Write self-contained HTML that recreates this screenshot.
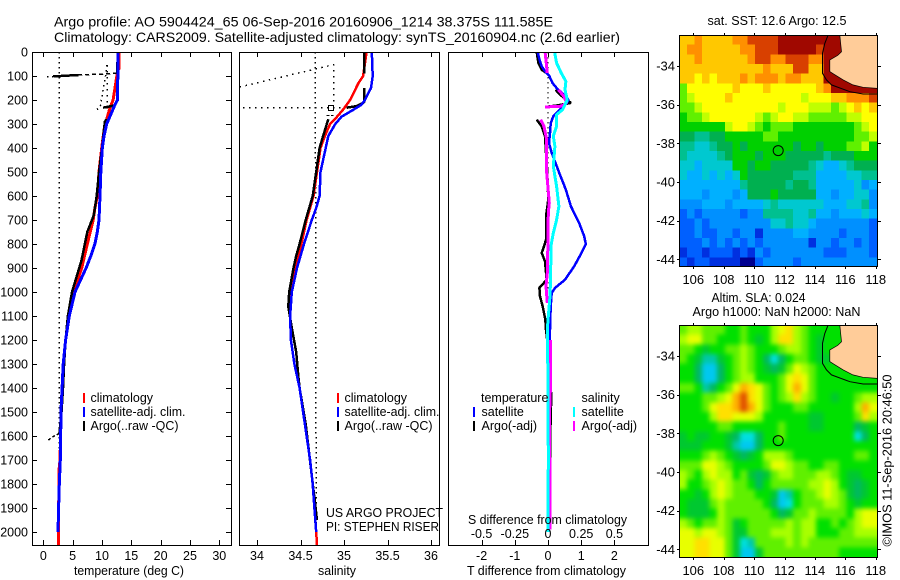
<!DOCTYPE html>
<html lang="en">
<head>
<meta charset="utf-8">
<title>Argo profile 5904424_65</title>
<style>
html,body{margin:0;padding:0;background:#fff;}
svg{display:block;}
text{font-family:"Liberation Sans",Arial,sans-serif;font-size:12.5px;fill:#000;}
.title{font-size:14px;}
.maplab{font-size:13px;}
</style>
</head>
<body>
<svg id="chart" width="900" height="580" viewBox="0 0 900 580" xmlns="http://www.w3.org/2000/svg">
<defs>
<clipPath id="clip-t"><rect x="32" y="52" width="200" height="494"/></clipPath>
<clipPath id="clip-s"><rect x="240" y="52" width="200" height="494"/></clipPath>
<clipPath id="clip-d"><rect x="449" y="52" width="200" height="494"/></clipPath>
<clipPath id="clip-m1"><rect x="680" y="35" width="198" height="231"/></clipPath>
<clipPath id="clip-m2"><rect x="680" y="325" width="198" height="232"/></clipPath>
</defs>
<rect x="0" y="0" width="900" height="580" fill="#fff"/>

<text class="title" x="54" y="26.5" textLength="499" lengthAdjust="spacingAndGlyphs">Argo profile: AO 5904424_65 06-Sep-2016 20160906_1214 38.375S 111.585E</text>
<text class="title" x="54" y="42" textLength="566" lengthAdjust="spacingAndGlyphs">Climatology: CARS2009. Satellite-adjusted climatology: synTS_20160904.nc (2.6d earlier)</text>

<g id="panel-t"></g>
<g id="panel-s"></g>
<g id="panel-d"></g>
<g id="map-1"></g>
<g id="map-2"></g>

<text x="74" y="575" textLength="110" lengthAdjust="spacingAndGlyphs">temperature (deg C)</text>
<text x="318" y="575" textLength="38" lengthAdjust="spacingAndGlyphs">salinity</text>
<text x="467" y="575" textLength="159" lengthAdjust="spacingAndGlyphs">T difference from climatology</text>
<text x="468" y="524" textLength="159" lengthAdjust="spacingAndGlyphs">S difference from climatology</text>

<g>
<rect x="83" y="393" width="2" height="10" fill="#f00"/>
<rect x="83" y="407" width="2" height="10" fill="#00f"/>
<rect x="83" y="421" width="2" height="10" fill="#000"/>
<text x="90.5" y="402">climatology</text>
<text x="90.5" y="416" textLength="95" lengthAdjust="spacingAndGlyphs">satellite-adj. clim.</text>
<text x="90.5" y="430" textLength="88" lengthAdjust="spacingAndGlyphs">Argo(..raw -QC)</text>
</g>
<g>
<rect x="337" y="393" width="2" height="10" fill="#f00"/>
<rect x="337" y="407" width="2" height="10" fill="#00f"/>
<rect x="337" y="421" width="2" height="10" fill="#000"/>
<text x="344.5" y="402">climatology</text>
<text x="344.5" y="416" textLength="95" lengthAdjust="spacingAndGlyphs">satellite-adj. clim.</text>
<text x="344.5" y="430" textLength="88" lengthAdjust="spacingAndGlyphs">Argo(..raw -QC)</text>
</g>
<text x="326" y="517" textLength="117" lengthAdjust="spacingAndGlyphs">US ARGO PROJECT</text>
<text x="326" y="531" textLength="113" lengthAdjust="spacingAndGlyphs">PI: STEPHEN RISER</text>

<g>
<text x="481" y="402">temperature</text>
<rect x="473" y="407" width="2" height="10" fill="#00f"/>
<rect x="473" y="421" width="2" height="10" fill="#000"/>
<text x="481.5" y="416">satellite</text>
<text x="481.5" y="430">Argo(-adj)</text>
<text x="581.5" y="402">salinity</text>
<rect x="573" y="407" width="2" height="10" fill="#0ff"/>
<rect x="573" y="421" width="2" height="10" fill="#f0f"/>
<text x="581.5" y="416">satellite</text>
<text x="581.5" y="430">Argo(-adj)</text>
</g>

<text class="maplab" x="707.5" y="25" textLength="139" lengthAdjust="spacingAndGlyphs">sat. SST: 12.6 Argo: 12.5</text>
<text class="maplab" x="711.5" y="302" textLength="94" lengthAdjust="spacingAndGlyphs">Altim. SLA: 0.024</text>
<text class="maplab" x="692.5" y="316" textLength="168" lengthAdjust="spacingAndGlyphs">Argo h1000: NaN h2000: NaN</text>
<text class="maplab" transform="translate(891.5,546.5) rotate(-90)" textLength="172" lengthAdjust="spacingAndGlyphs">©IMOS 11-Sep-2016 20:46:50</text>
</svg>

<script>
// ---- depth axis ----
const depthTicks = [0,100,200,300,400,500,600,700,800,900,1000,1100,1200,1300,1400,1500,1600,1700,1800,1900,2000];
const tempTicks = [0,5,10,15,20,25,30];
const salTicks = [34,34.5,35,35.5,36];
const salTickLabels = ['34','34.5','35','35.5','36'];
const diffTTicks = [-2,-1,0,1,2];
const diffSTicks = [-0.5,-0.25,0,0.25,0.5];
const diffSTickLabels = ['-0.5','-0.25','0','0.25','0.5'];
const lonTicks = [106,108,110,112,114,116,118];
const latTicks = [-34,-36,-38,-40,-42,-44];

// ---- temperature profiles ----
const climTDepth = [0,70,75,120,200,230,280,300,400,500,600,650,700,800,900,1000,1100,1200,1300,1400,1500,1600,1700,1750,1800,1900,2000,2055];
const climT = [12.9,12.9,12.7,12.4,11.9,11.4,10.8,10.5,9.95,9.5,9.2,8.8,8.5,7.5,6.55,5.2,4.4,3.8,3.4,3.2,3.0,2.95,2.85,2.65,2.7,2.6,2.55,2.55];
const satTDepth = [0,100,200,220,260,300,350,400,500,600,700,750,800,850,900,1000,1100,1200,1300,1400,1500,1600,1700,1800,1900,2000];
const satT = [12.7,12.7,12.65,12.2,11.5,10.8,10.35,10.05,9.8,9.66,9.5,9.2,8.8,8.1,7.3,5.4,4.43,3.8,3.4,3.2,3.0,2.96,2.9,2.73,2.6,2.5];
const argoTDepth = [0,88,null,96,100,102,null,222,232,null,280,290,400,500,600,680,750,870,1000,1100,1200,1300,1400,1500,1590];
const argoT = [12.7,12.6,null,6,3,1.7,null,12.3,10.2,null,10.8,10.5,10,9.5,9.1,8.6,7.5,6.5,4.9,4.2,3.8,3.55,3.35,3.1,2.75];
const argoTDashDepth = [88,92,96];
const argoTDash = [12.6,10,6];
const argoTSpikeDepth = [1589,1605,1622];
const argoTSpike = [2.73,1.5,0.6];
const rawTDepth = [55,100,230,240,null,102,103];
const rawT = [10.8,10.6,9.7,9.1,null,1.7,0.6];
const rawT2Depth = [55,235];
const rawT2 = [10.9,10.9];
const refTDepth = [0,2055];
const refT = [2.73,2.73];

// ---- salinity profiles ----
const climSDepth = [0,100,130,200,240,270,300,350,400,500,600,700,800,900,1000,1100,1200,1300,1400,1500,1600,1700,1800,1900,2000,2055];
const climS = [35.26,35.22,35.165,35.07,34.99,34.92,34.84,34.78,34.73,34.69,34.65,34.57,34.51,34.44,34.39,34.38,34.39,34.43,34.49,34.53,34.57,34.61,34.64,34.66,34.68,34.69];
const satSDepth = [0,100,150,200,220,240,270,300,350,400,500,600,650,700,800,900,1000,1100,1200,1300,1400,1500,1600,1700,1800,1900,2000];
const satS = [35.32,35.33,35.31,35.24,35.20,35.11,34.97,34.90,34.82,34.79,34.73,34.72,34.68,34.63,34.54,34.46,34.40,34.38,34.39,34.43,34.49,34.53,34.57,34.61,34.64,34.66,34.68];
const argoSDepth = [0,90,null,150,210,225,232,null,280,350,400,500,600,700,800,850,900,1000,1060,1150,1250,1350,1400,1550,1950];
const argoS = [35.23,35.23,null,35.23,35.23,35.15,35.03,null,34.82,34.76,34.72,34.68,34.64,34.56,34.49,34.45,34.42,34.37,34.36,34.40,34.45,34.475,34.49,34.56,34.69];
const rawSDepth = [146,53,226,null,233,233];
const rawS = [33.8,34.88,34.88,null,33.84,34.99];
const rawSDashDepth = [265,265];
const rawSDash = [34.8,34.88];
const refSDepth = [0,2055];
const refS = [34.67,34.68];
const qcSquareDepth = [233];
const qcSquareS = [34.85];

// ---- differences from climatology ----
const dTSatDepth = [0,30,60,80,100,130,150,170,190,200,215,240,268,297,337,380,420,504,574,643,713,768,800,837,893,949,983,1004,1060,1157,1400,1700,2000];
const dTSat = [-0.31,-0.26,-0.19,-0.09,0.04,0.14,0.26,0.41,0.58,0.61,0.56,0.36,0.16,0.08,0.06,0.03,0.11,0.34,0.54,0.69,0.94,1.09,1.14,1.01,0.79,0.51,0.21,0.11,0.08,0.06,0.05,0.03,0.02];
const dTArgoDepth = [0,46,74,88,null,157,178,212,222,229,null,282,310,351,420,504,615,685,782,810,837,872,949,983,1018,1060,1115,1157,1300,1450,1500,1700];
const dTArgo = [-0.34,-0.29,-0.19,-0.04,null,0.23,0.36,0.69,0.3,-0.09,null,-0.34,-0.19,-0.09,-0.06,-0.02,0.01,-0.06,-0.06,-0.12,-0.19,-0.09,-0.04,-0.26,-0.24,-0.16,-0.08,-0.06,0.06,0.1,0.08,0.06];
const dSSatDepth = [0,46,88,122,157,199,240,261,310,351,393,476,560,643,699,754,810,921,1018,1101,1157,1290,1300,1700,2000];
const dSSat = [0.05,0.065,0.1,0.135,0.128,0.145,0.11,0.065,0.065,0.04,0.052,0.04,0.065,0.082,0.065,0.04,0.022,0.02,0.015,0.002,-0.005,-0.005,0,0.002,0];
const dSArgoDepth = [0,88,null,157,185,212,226,229,null,282,310,365,504,629,670,782,921,976,1046,null,1200,1400,1500,1990];
const dSArgo = [-0.022,-0.005,null,0.078,0.12,0.14,0.1,-0.022,null,-0.055,-0.03,-0.01,-0.01,0.01,0.002,0,-0.005,-0.015,-0.005,null,0.018,0.018,0.012,0.015];
const dTRefDepth = [0,1000];
const dTRef = [0,0];

// ---- SST map: colour level per half-degree cell ----
const sstGrid = [
[12,12,13,12,12,12,12,13,13,14,14,14,14,15,15,15,15,15,15,15,15,15,15,15,15,15],
[12,13,13,12,12,12,12,12,13,13,14,14,14,15,15,15,15,15,14,15,15,15,15,15,15,15],
[12,12,13,12,12,12,12,12,12,13,14,14,13,13,14,14,14,13,13,15,15,15,15,15,15,15],
[12,12,12,12,12,12,12,12,12,12,12,13,12,12,12,14,14,12,12,15,15,15,15,15,15,15],
[12,12,11,12,11,12,12,12,13,12,13,13,13,12,13,13,12,12,12,15,15,15,15,15,15,15],
[9,11,11,11,11,11,11,12,11,11,11,12,11,11,11,11,11,11,12,13,15,15,15,15,15,15],
[9,10,11,11,11,11,12,11,11,11,11,11,11,11,11,11,10,11,11,11,12,12,13,13,13,14],
[9,9,10,11,11,11,11,11,11,11,11,11,11,10,11,11,11,10,10,10,9,10,11,12,11,12],
[8,9,9,10,11,11,11,11,11,11,10,9,10,11,11,10,10,9,9,9,9,9,10,10,11,11],
[8,8,8,8,8,8,10,11,11,10,9,8,9,9,9,8,8,8,8,8,8,8,8,9,10,11],
[7,7,6,6,7,7,8,8,8,8,8,9,9,8,8,8,8,8,8,8,8,8,8,9,9,10],
[6,6,5,5,6,7,7,8,7,8,8,8,8,8,8,7,8,8,7,8,8,8,9,9,10,8],
[6,5,5,5,5,6,7,8,8,8,7,8,8,8,7,7,7,7,7,6,7,7,7,8,8,8],
[5,5,4,5,5,5,5,8,8,7,8,8,7,7,7,7,7,6,5,4,4,5,6,7,7,7],
[5,4,4,5,4,5,4,5,8,7,7,7,7,7,7,6,6,6,4,4,4,4,5,5,6,6],
[4,4,4,4,4,4,4,4,6,7,7,7,7,7,6,7,7,6,4,4,4,4,4,5,3,4],
[4,4,4,3,4,4,4,3,4,7,7,7,8,7,7,7,7,7,4,4,3,4,4,5,5,3],
[3,3,3,4,4,4,3,4,4,4,4,5,6,5,5,5,5,5,5,4,4,4,5,5,6,3],
[2,3,2,3,3,3,3,3,2,3,3,6,6,6,6,5,5,6,4,4,3,4,4,4,5,4],
[2,2,3,2,3,3,3,3,3,3,3,3,5,5,6,5,5,4,3,3,3,3,3,3,3,2],
[2,2,3,2,2,3,3,2,3,3,1,3,3,3,3,4,4,3,3,3,3,2,3,3,3,2],
[2,2,2,3,2,3,2,3,2,3,2,3,3,3,3,3,3,1,3,3,2,3,3,2,3,2],
[1,2,2,1,2,2,2,1,2,1,3,2,3,3,3,3,3,3,3,2,2,2,3,3,3,2],
[2,1,2,2,1,1,1,1,0,0,2,3,3,3,3,2,3,3,3,3,3,3,3,3,3,3]
];

// ---- SLA map: colour level per half-degree cell ----
const slaGrid = [
[6,7,7,6,6,6,5,5,6,5,5,5,7,8,9,7,6,5,5,5,5,5,5,5,5,5],
[7,8,8,6,6,5,5,5,6,5,4,5,7,9,9,7,6,5,4,5,5,5,5,5,5,5],
[6,6,5,4,5,5,6,6,7,6,5,5,5,6,7,7,6,5,4,5,5,5,5,5,5,5],
[6,5,4,2,2,4,5,6,7,6,5,3,1,3,5,6,6,5,4,4,5,5,5,5,5,5],
[5,5,3,0,0,3,5,6,7,6,5,4,3,4,6,8,7,6,5,5,5,5,5,5,5,5],
[5,5,3,0,0,3,5,6,7,7,5,5,5,6,8,9,8,6,5,5,5,5,5,5,5,5],
[6,6,5,2,3,5,6,8,10,9,8,6,5,6,8,10,8,6,5,5,5,5,5,5,5,5],
[5,5,5,6,6,7,8,10,12,9,8,6,5,6,7,9,7,6,5,5,4,5,5,6,7,7],
[5,5,5,6,8,9,9,10,12,10,8,6,5,5,5,6,6,5,5,5,5,5,5,7,10,8],
[5,5,5,5,7,9,9,8,8,8,7,5,5,5,5,5,5,4,4,5,5,5,5,6,9,7],
[5,5,5,5,5,6,6,5,5,5,5,5,5,6,5,5,5,4,4,5,5,5,5,3,4,5],
[4,5,4,4,5,5,4,3,1,1,3,5,5,6,5,5,5,5,5,5,5,5,5,1,3,5],
[4,4,4,5,5,5,4,2,0,0,3,5,5,5,5,5,5,5,5,5,5,5,5,5,5,5],
[5,5,5,6,7,6,5,4,3,4,5,7,7,7,6,5,5,5,5,5,5,5,5,6,6,5],
[6,6,6,8,8,7,6,5,5,5,5,6,8,8,7,6,6,5,5,6,6,5,5,5,5,5],
[7,6,5,7,8,7,7,5,6,4,3,4,6,7,7,6,6,6,7,7,6,5,4,4,5,5],
[7,5,5,6,7,8,7,6,6,5,3,5,6,6,6,6,6,7,7,8,7,5,4,3,4,5],
[5,5,4,5,7,8,7,6,6,6,5,5,4,0,2,5,6,6,7,8,7,6,4,3,4,5],
[5,4,4,4,6,7,6,6,6,6,6,5,3,0,1,5,6,6,6,7,7,6,5,4,5,5],
[5,4,4,4,5,7,6,6,6,6,6,6,5,3,4,6,6,7,6,6,6,6,5,7,8,8],
[7,6,5,6,6,7,6,4,5,6,6,6,6,6,7,6,7,7,5,5,6,5,6,7,8,8],
[8,8,7,8,8,7,6,4,4,6,6,6,7,7,7,6,7,7,5,5,5,6,6,7,7,7],
[8,8,9,9,8,8,6,4,1,2,6,6,6,6,7,6,7,6,6,6,6,6,6,6,6,6],
[8,8,9,9,8,8,6,4,0,0,4,6,6,6,6,6,6,6,6,6,6,5,5,5,5,5]
];

// ---- coastline, 200 m contour and float position (degrees) ----
const coastLon = [115.64,115.75,115.5,114.98,114.98,115.2,115.86,116.5,117.17,118.1,118.3,118.3];
const coastLat = [-32.4,-33.26,-33.45,-33.69,-34.29,-34.4,-34.72,-34.98,-35.1,-35.16,-35.16,-32.4];
const contourLon = [114.87,114.65,114.5,114.5,114.76,115.09,116.3,117.17,118.09];
const contourLat = [-32.4,-32.83,-33.34,-34.38,-34.72,-34.98,-35.33,-35.45,-35.45];
const floatLon = [111.585];
const floatLat = [-38.375];

const sstColours = ['#000090','#0030e0','#0060ff','#0090ff','#00b0ff','#00c8d0','#00c090','#00b050','#00d000','#60f000','#c0ff00','#ffff00','#ffc800','#ff9000','#d84000','#a00800'];
const slaColours = ['#00c8f0','#00e0e0','#00c8a8','#00b860','#00c830','#00e000','#60f000','#a8ff00','#e8ff00','#ffe000','#ffb000','#ff7800','#e05000'];

// ---- axis functions ----
const NS = 'http://www.w3.org/2000/svg';
const yDepth = d => 52 + d * 0.24;
const xTemp = v => 43.3 + v * 5.867;
const xSal = v => 257 + (v - 34) * 87;
const xDT = v => 548 + v * 33.2;
const xDS = v => 548 + v * 132.8;
const xLon = v => 693.3 + (v - 106) * 15.2;
const yLat1 = v => 66 + (-34 - v) * 19.33;
const yLat2 = v => 356 + (-34 - v) * 19.33;

function make(parent, tag, name, attrs) {
  const el = document.createElementNS(NS, tag);
  for (const k in attrs) el.setAttribute(k, attrs[k]);
  
  
  parent.appendChild(el);
  return el;
}
function tickLine(parent, name, x1, y1, x2, y2) {
  return make(parent, 'line', name, {x1, y1, x2, y2, stroke:'#000', 'stroke-width':1, 'shape-rendering':'crispEdges'});
}
function label(parent, name, x, y, str, anchor, cls) {
  const t = make(parent, 'text', name, {x, y, 'text-anchor':anchor});
  if (cls) t.setAttribute('class', cls);
  t.textContent = str;
  return t;
}
function series(parent, name, depths, values, xf, colour, width, dash, clip) {
  const g = make(parent, 'g', name, {'clip-path':'url(#' + clip + ')'});
  let run = [];
  const flush = () => {
    if (run.length > 1) {
      const attrs = {points: run.join(' '), fill:'none', stroke:colour, 'stroke-width':width, 'shape-rendering':'crispEdges', 'stroke-linejoin':'bevel'};
      if (dash) attrs['stroke-dasharray'] = dash;
      make(g, 'polyline', name + '-segment', attrs);
    }
    run = [];
  };
  depths.forEach((d, i) => {
    if (d === null || values[i] === null) flush();
    else run.push(xf(values[i]).toFixed(1) + ',' + yDepth(d).toFixed(1));
  });
  flush();
}
function frame(parent, name, x, y, w, h) {
  make(parent, 'rect', name, {x, y, width:w, height:h, fill:'none', stroke:'#000', 'stroke-width':1, 'shape-rendering':'crispEdges'});
}

// ---- temperature panel ----
const pT = document.getElementById('panel-t');
series(pT, 'temperature-reference-dotted', refTDepth, refT, xTemp, '#000', 1.5, '1.5 3.5', 'clip-t');
series(pT, 'argo-raw-temperature-dotted', rawTDepth, rawT, xTemp, '#000', 1.5, '1.5 3.5', 'clip-t');
series(pT, 'argo-raw-temperature-dotted-2', rawT2Depth, rawT2, xTemp, '#000', 1.5, '1.5 4.5', 'clip-t');
series(pT, 'climatology-temperature-line', climTDepth, climT, xTemp, '#f00', 3, null, 'clip-t');
series(pT, 'argo-temperature-line', argoTDepth, argoT, xTemp, '#000', 2.5, null, 'clip-t');
series(pT, 'argo-temperature-dashed', argoTDashDepth, argoTDash, xTemp, '#000', 1.5, '4 3', 'clip-t');
series(pT, 'argo-temperature-spike', argoTSpikeDepth, argoTSpike, xTemp, '#000', 1.5, '3 2', 'clip-t');
series(pT, 'satellite-temperature-line', satTDepth, satT, xTemp, '#00f', 3, null, 'clip-t');
frame(pT, 'temperature-frame', 32.5, 52.5, 199, 493);
depthTicks.forEach(d => {
  tickLine(pT, 'depth-tick-left', 32, Math.round(yDepth(d)) + .5, 37, Math.round(yDepth(d)) + .5);
  tickLine(pT, 'depth-tick-right', 226, Math.round(yDepth(d)) + .5, 231, Math.round(yDepth(d)) + .5);
  label(pT, 'depth-tick-label', 28, yDepth(d) + 4.5, String(d), 'end');
});
tempTicks.forEach(v => {
  const x = Math.round(xTemp(v)) + .5;
  tickLine(pT, 'temperature-tick-top', x, 52, x, 57);
  tickLine(pT, 'temperature-tick-bottom', x, 540, x, 545);
  label(pT, 'temperature-tick-label', xTemp(v), 560, String(v), 'middle');
});

// ---- salinity panel ----
const pS = document.getElementById('panel-s');
series(pS, 'salinity-reference-dotted', refSDepth, refS, xSal, '#000', 1.5, '1.5 3.5', 'clip-s');
series(pS, 'argo-raw-salinity-dotted', rawSDepth, rawS, xSal, '#000', 1.5, '1.5 4.5', 'clip-s');
series(pS, 'argo-raw-salinity-dash', rawSDashDepth, rawSDash, xSal, '#000', 1, '3 1.5', 'clip-s');
qcSquareDepth.forEach((d, i) => {
  make(pS, 'rect', 'argo-qc-square', {x:xSal(qcSquareS[i]) - 2.5, y:yDepth(d) - 2.5, width:5, height:5, fill:'none', stroke:'#000', 'stroke-width':1, 'shape-rendering':'crispEdges'});
});
series(pS, 'climatology-salinity-line', climSDepth, climS, xSal, '#f00', 2.5, null, 'clip-s');
series(pS, 'argo-salinity-line', argoSDepth, argoS, xSal, '#000', 2.5, null, 'clip-s');
series(pS, 'satellite-salinity-line', satSDepth, satS, xSal, '#00f', 2.5, null, 'clip-s');
frame(pS, 'salinity-frame', 239.5, 52.5, 200, 493);
salTicks.forEach((v, i) => {
  const x = Math.round(xSal(v)) + .5;
  tickLine(pS, 'salinity-tick-top', x, 52, x, 57);
  tickLine(pS, 'salinity-tick-bottom', x, 540, x, 545);
  label(pS, 'salinity-tick-label', xSal(v), 560, salTickLabels[i], 'middle');
});

// ---- difference panel ----
const pD = document.getElementById('panel-d');
series(pD, 'zero-difference-dotted', dTRefDepth, dTRef, xDT, '#000', 1, '1.5 3.5', 'clip-d');
series(pD, 'argo-t-difference-line', dTArgoDepth, dTArgo, xDT, '#000', 2.5, null, 'clip-d');
series(pD, 'satellite-t-difference-line', dTSatDepth, dTSat, xDT, '#00f', 2.5, null, 'clip-d');
series(pD, 'argo-s-difference-line', dSArgoDepth, dSArgo, xDS, '#f0f', 3, null, 'clip-d');
series(pD, 'satellite-s-difference-line', dSSatDepth, dSSat, xDS, '#0ff', 3, null, 'clip-d');
frame(pD, 'difference-frame', 448.5, 52.5, 200, 493);
diffTTicks.forEach(v => {
  const x = Math.round(xDT(v)) + .5;
  tickLine(pD, 'difference-tick-top', x, 52, x, 57);
  tickLine(pD, 'difference-tick-bottom', x, 540, x, 545);
  label(pD, 't-difference-tick-label', xDT(v), 560, String(v), 'middle');
});
diffSTicks.forEach((v, i) => {
  label(pD, 's-difference-tick-label', xDS(v), 538, diffSTickLabels[i], 'middle');
});

// ---- maps ----
function drawMap(id, grid, colours, yLat, clip, top, name, blur) {
  const root = document.getElementById(id);
  const g = make(root, 'g', name + '-plot-area', {'clip-path':'url(#' + clip + ')'});
  const cells = make(g, 'g', name + '-cells', {});
  if (blur) cells.setAttribute('style', 'filter:blur(' + blur + 'px)');
  const rows = grid.length, cols = grid[0].length;
  grid.forEach((row, j) => {
    row.forEach((level, i) => {
      let x0 = xLon(105.07 + i * 0.5), x1 = xLon(105.07 + (i + 1) * 0.5);
      let y0 = yLat(-32.4 - j * 0.5), y1 = yLat(-32.4 - (j + 1) * 0.5);
      if (blur) {
        if (i === 0) x0 -= 12;
        if (i === cols - 1) x1 += 12;
        if (j === 0) y0 -= 12;
        if (j === rows - 1) y1 += 12;
      }
      make(cells, 'rect', name + '-cell', {x:x0.toFixed(2), y:y0.toFixed(2), width:(x1 - x0 + .6).toFixed(2), height:(y1 - y0 + .6).toFixed(2), fill:colours[level], 'shape-rendering':'crispEdges'});
    });
  });
  make(g, 'polygon', name + '-land', {points: coastLon.map((v, i) => xLon(v).toFixed(1) + ',' + yLat(coastLat[i]).toFixed(1)).join(' '), fill:'#ffcc99', stroke:'#000', 'stroke-width':.7});
  make(g, 'polyline', name + '-contour', {points: contourLon.map((v, i) => xLon(v).toFixed(1) + ',' + yLat(contourLat[i]).toFixed(1)).join(' '), fill:'none', stroke:'#000', 'stroke-width':1});
  floatLon.forEach((v, i) => {
    make(root, 'circle', name + '-float-marker', {cx:xLon(v), cy:yLat(floatLat[i]), r:5, fill:'none', stroke:'#000', 'stroke-width':1});
  });
  const bottom = Math.round(yLat(-44) + (clip === 'clip-m1' ? 6.7 : 8));
  frame(root, name + '-frame', 679.5, top + .5, 198, bottom - top);
  lonTicks.forEach(v => {
    const x = Math.round(xLon(v)) + .5;
    tickLine(root, name + '-lon-tick-top', x, top - 2, x, top);
    tickLine(root, name + '-lon-tick-bottom', x, bottom, x, bottom + 3);
    label(root, name + '-lon-tick-label', xLon(v), bottom + 18, String(v), 'middle', 'maplab');
  });
  latTicks.forEach(v => {
    const y = Math.round(yLat(v)) + .5;
    tickLine(root, name + '-lat-tick-left', 677, y, 679, y);
    tickLine(root, name + '-lat-tick-right', 878, y, 881, y);
    label(root, name + '-lat-tick-label', 675, yLat(v) + 4.5, String(v), 'end', 'maplab');
  });
}
drawMap('map-1', sstGrid, sstColours, yLat1, 'clip-m1', 35, 'sst-map', 0);
drawMap('map-2', slaGrid, slaColours, yLat2, 'clip-m2', 325, 'sla-map', 2.5);
</script>
</body>
</html>
